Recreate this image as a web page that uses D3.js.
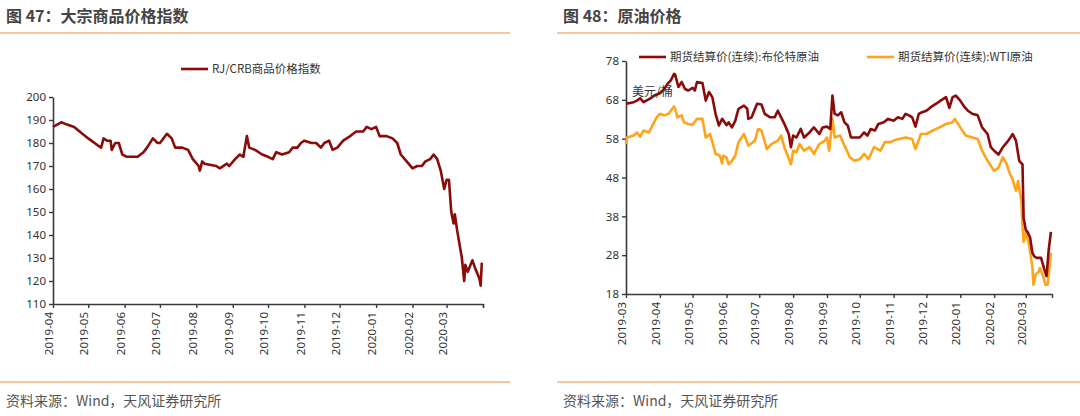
<!DOCTYPE html>
<html><head><meta charset="utf-8">
<script src="https://cdn.jsdelivr.net/npm/d3@7"></script>
<style>body{margin:0;background:#fff}svg{font-family:"Noto Sans CJK SC","Noto Sans",sans-serif}</style>
</head><body><svg id="c" width="1080" height="416"></svg>
<script>
const crbDates=["2019-04-01","2019-04-08","2019-04-13","2019-04-19","2019-04-26","2019-05-01","2019-05-09","2019-05-12","2019-05-14","2019-05-17","2019-05-20","2019-05-21","2019-05-24","2019-05-27","2019-05-30","2019-06-03","2019-06-06","2019-06-12","2019-06-17","2019-06-20","2019-06-25","2019-06-29","2019-07-01","2019-07-07","2019-07-11","2019-07-14","2019-07-20","2019-07-25","2019-07-29","2019-08-03","2019-08-04","2019-08-06","2019-08-08","2019-08-18","2019-08-21","2019-08-27","2019-08-29","2019-09-03","2019-09-07","2019-09-10","2019-09-13","2019-09-15","2019-09-20","2019-09-26","2019-10-01","2019-10-05","2019-10-08","2019-10-13","2019-10-19","2019-10-22","2019-10-26","2019-10-29","2019-11-01","2019-11-07","2019-11-11","2019-11-15","2019-11-18","2019-11-22","2019-11-25","2019-11-29","2019-12-04","2019-12-10","2019-12-15","2019-12-21","2019-12-24","2019-12-28","2020-01-01","2020-01-04","2020-01-10","2020-01-15","2020-01-19","2020-01-22","2020-01-27","2020-02-01","2020-02-05","2020-02-09","2020-02-12","2020-02-16","2020-02-19","2020-02-22","2020-02-25","2020-02-28","2020-03-01","2020-03-03","2020-03-05","2020-03-07","2020-03-08","2020-03-10","2020-03-14","2020-03-16","2020-03-17","2020-03-19","2020-03-23","2020-03-25","2020-03-29","2020-03-30","2020-03-31"];
const crbValues=[187,189,188,187,184,182,179,178,182,181,181,177,180,180,175,174,174,174,176,178,182,180,180,184,182,178,178,177,173,170,168,172,171,170,169,171,170,173,175,174,183,178,177,175,174,173,176,175,176,178,178,180,181,180,180,178,180,181,177,178,181,183,185,185,187,186,187,183,183,182,180,175,172,169,170,170,172,173,175,173,168,160,164,164,150,145,149,142,130,120,127,124,129,126,121,118,128];
const crbTicks=[110,120,130,140,150,160,170,180,190,200];

const brentDates=["2019-03-01","2019-03-08","2019-03-11","2019-03-14","2019-03-17","2019-03-23","2019-03-27","2019-04-01","2019-04-05","2019-04-08","2019-04-11","2019-04-14","2019-04-15","2019-04-18","2019-04-21","2019-04-24","2019-04-27","2019-05-01","2019-05-03","2019-05-05","2019-05-10","2019-05-13","2019-05-16","2019-05-19","2019-05-22","2019-05-25","2019-05-28","2019-06-01","2019-06-03","2019-06-06","2019-06-09","2019-06-12","2019-06-17","2019-06-20","2019-06-21","2019-06-24","2019-06-29","2019-07-03","2019-07-06","2019-07-11","2019-07-15","2019-07-18","2019-07-21","2019-07-24","2019-07-28","2019-07-30","2019-08-01","2019-08-04","2019-08-08","2019-08-11","2019-08-16","2019-08-20","2019-08-25","2019-08-28","2019-09-01","2019-09-04","2019-09-06","2019-09-08","2019-09-11","2019-09-14","2019-09-17","2019-09-20","2019-09-23","2019-10-01","2019-10-05","2019-10-08","2019-10-11","2019-10-15","2019-10-18","2019-10-23","2019-10-27","2019-11-01","2019-11-05","2019-11-09","2019-11-12","2019-11-15","2019-11-18","2019-11-21","2019-11-24","2019-11-27","2019-12-01","2019-12-05","2019-12-10","2019-12-14","2019-12-19","2019-12-22","2019-12-25","2019-12-28","2020-01-01","2020-01-05","2020-01-08","2020-01-12","2020-01-17","2020-01-21","2020-01-26","2020-01-29","2020-02-01","2020-02-05","2020-02-09","2020-02-14","2020-02-18","2020-02-21","2020-02-24","2020-02-27","2020-02-28","2020-03-01","2020-03-03","2020-03-05","2020-03-07","2020-03-09","2020-03-11","2020-03-15","2020-03-18","2020-03-20","2020-03-22","2020-03-24"];
const brentValues=[67,67.4,67.8,68.4,67.4,68.3,69.1,69.7,70.8,72.1,73,74.7,74.5,71.3,72.6,70.8,70.4,71.1,70.4,72.6,72.3,67.8,70,68.7,64.4,61.4,63.1,61.5,62.2,60.9,62.6,65.7,66.5,65.7,63.1,63.5,67,66.8,64.4,63.5,63.5,65.2,63.5,61.8,59.2,55.8,58.8,58.3,60.5,58.3,59.6,60.9,59.2,60.9,61.1,60.5,69.1,64.4,64,64.8,62.2,61.4,58.3,58.3,59.6,58.8,60.5,60.1,61.8,62.2,63.1,62.6,63.5,63.1,64.4,64,63.5,61.1,64.4,64.8,65.2,66.1,67,67.8,68.7,65.9,68.7,69.1,67.8,66.1,65.2,64.4,64,60.9,59.2,55.8,54.9,53.9,55.8,57.5,59.2,57.5,52.3,51.4,37.6,34.5,33.8,32.5,28.6,27.6,27.3,27.3,24.3,22.6,29.4,34];
const wtiDates=["2019-03-01","2019-03-02","2019-03-08","2019-03-11","2019-03-14","2019-03-17","2019-03-22","2019-03-26","2019-03-29","2019-04-01","2019-04-05","2019-04-09","2019-04-14","2019-04-15","2019-04-17","2019-04-21","2019-04-23","2019-04-27","2019-05-01","2019-05-05","2019-05-10","2019-05-13","2019-05-17","2019-05-22","2019-05-26","2019-05-28","2019-05-29","2019-06-01","2019-06-03","2019-06-06","2019-06-09","2019-06-12","2019-06-17","2019-06-21","2019-06-27","2019-06-30","2019-07-03","2019-07-08","2019-07-12","2019-07-18","2019-07-21","2019-07-24","2019-07-30","2019-08-01","2019-08-04","2019-08-07","2019-08-11","2019-08-16","2019-08-20","2019-08-25","2019-08-30","2019-09-01","2019-09-03","2019-09-06","2019-09-08","2019-09-13","2019-09-17","2019-09-22","2019-09-26","2019-10-01","2019-10-05","2019-10-09","2019-10-14","2019-10-20","2019-10-24","2019-10-29","2019-11-01","2019-11-06","2019-11-12","2019-11-18","2019-11-21","2019-11-26","2019-12-01","2019-12-07","2019-12-13","2019-12-19","2019-12-25","2019-12-27","2020-01-01","2020-01-06","2020-01-12","2020-01-17","2020-01-21","2020-01-26","2020-02-01","2020-02-05","2020-02-09","2020-02-12","2020-02-15","2020-02-18","2020-02-21","2020-02-23","2020-02-26","2020-02-27","2020-02-28","2020-03-01","2020-03-04","2020-03-07","2020-03-08","2020-03-10","2020-03-13","2020-03-14","2020-03-17","2020-03-19","2020-03-21","2020-03-24"];
const wtiValues=[56.6,58.3,58.8,59.6,58.5,60.1,59.6,61.8,63.5,64.4,64,64.4,66.3,65.7,63.5,64,62.2,61.8,61.6,63.1,63.1,58.3,59.2,54.1,53.6,51.6,53.6,53.2,51.4,52.3,53.6,57.1,59.2,56.2,57.5,60.5,60.1,55.3,56.6,57.5,58.8,55.8,51.4,54.9,54.5,56.6,54.9,55.8,54.1,56.6,57.5,58.3,54.9,63.1,58.3,58.8,56.2,53.2,52.3,52.7,54.1,52.7,55.8,54.9,57.1,57.1,57.5,57.9,58.3,57.9,55.3,59.2,59.2,60.1,60.9,61.8,62.2,63.1,60.9,58.8,58.3,57.9,54.9,52.3,49.7,50.6,53.2,51.8,49.3,47.5,44.6,47.1,41.9,35.4,31.5,33.8,30.7,25.1,20.4,23,23.8,24.7,22.5,20.4,20.4,28.6];
const oilTicks=[18,28,38,48,58,68,78];

const svg=d3.select("#c");
const P=d3.timeParse("%Y-%m-%d"), F=d3.timeFormat("%Y-%m");
const orange="#f9b27a", dark="#8b0a0a", gold="#ffa319";

function frame(x0,x1,title){
  svg.append("line").attr("x1",x0).attr("x2",x1).attr("y1",33).attr("y2",33).attr("stroke",orange).attr("stroke-width",1.5);
  svg.append("line").attr("x1",x0).attr("x2",x1).attr("y1",382).attr("y2",382).attr("stroke",orange).attr("stroke-width",1.5);
  svg.append("text").attr("x",x0+6).attr("y",22).attr("font-size",16).attr("font-weight","bold").attr("fill","#444").text(title);
  svg.append("text").attr("x",x0+6).attr("y",406).attr("font-size",14).attr("fill","#555").text("资料来源：Wind，天风证券研究所");
}
frame(0,510,"图 47：大宗商品价格指数");
frame(557,1080,"图 48：原油价格");

function chart(o){
  const x=d3.scaleTime().domain([P(o.d0),P(o.d1)]).range(o.xr);
  const y=d3.scaleLinear().domain([o.yt[0],o.yt[o.yt.length-1]]).range(o.yr);
  const g=svg.append("g");
  const ya=g.append("g").attr("transform",`translate(${o.xr[0]},0)`).call(d3.axisLeft(y).tickValues(o.yt).tickSize(4).tickSizeOuter(0));
  const months=d3.timeMonth.range(P(o.d0),d3.timeDay.offset(P(o.d1),1));
  const xa=g.append("g").attr("transform",`translate(0,${o.yr[0]})`).call(d3.axisBottom(x).tickValues(months.concat(o.end?[P(o.d1)]:[])).tickSize(4).tickSizeOuter(0).tickFormat(d=>+d===+P(o.d1)&&o.end?"":F(d)));
  [ya,xa].forEach(a=>{a.select(".domain").attr("stroke","#3a3a3a").attr("stroke-width",1.6);a.selectAll(".tick line").attr("stroke","#3a3a3a").attr("stroke-width",1.4);a.selectAll("text").attr("fill","#333").attr("font-size",11.5).attr("font-family","'Noto Sans','Noto Sans CJK SC',sans-serif");});
  xa.selectAll("text").attr("transform","rotate(-90)").attr("text-anchor","end").attr("x",-8).attr("y",-4).attr("dy","0.32em");
  o.series.forEach(s=>{
    const data=s.d.map((d,i)=>[P(d),s.v[i]]);
    g.append("path").datum(data).attr("fill","none").attr("stroke",s.c).attr("stroke-width",2.6).attr("stroke-linejoin","round")
      .attr("d",d3.line().x(d=>x(d[0])).y(d=>y(d[1])));
  });
  return {x,y};
}
chart({d0:"2019-04-01",d1:"2020-04-01",xr:[53,483],yr:[304,97],yt:crbTicks,end:true,series:[{d:crbDates,v:crbValues,c:dark}]});
chart({d0:"2019-03-01",d1:"2020-03-25",xr:[626,1052],yr:[294,61],yt:oilTicks,end:true,series:[{d:wtiDates,v:wtiValues,c:gold},{d:brentDates,v:brentValues,c:dark}]});

function legend(x,y,c,t){
  svg.append("line").attr("x1",x).attr("x2",x+27).attr("y1",y).attr("y2",y).attr("stroke",c).attr("stroke-width",2.6);
  svg.append("text").attr("x",x+31).attr("y",y+4).attr("font-size",11.5).attr("fill","#333").text(t);
}
legend(181,69,dark,"RJ/CRB商品价格指数");
legend(639,57,dark,"期货结算价(连续):布伦特原油");
legend(867,57,gold,"期货结算价(连续):WTI原油");
svg.append("text").attr("x",632).attr("y",96).attr("font-size",12).attr("fill","#333").text("美元/桶");
</script></body></html>
